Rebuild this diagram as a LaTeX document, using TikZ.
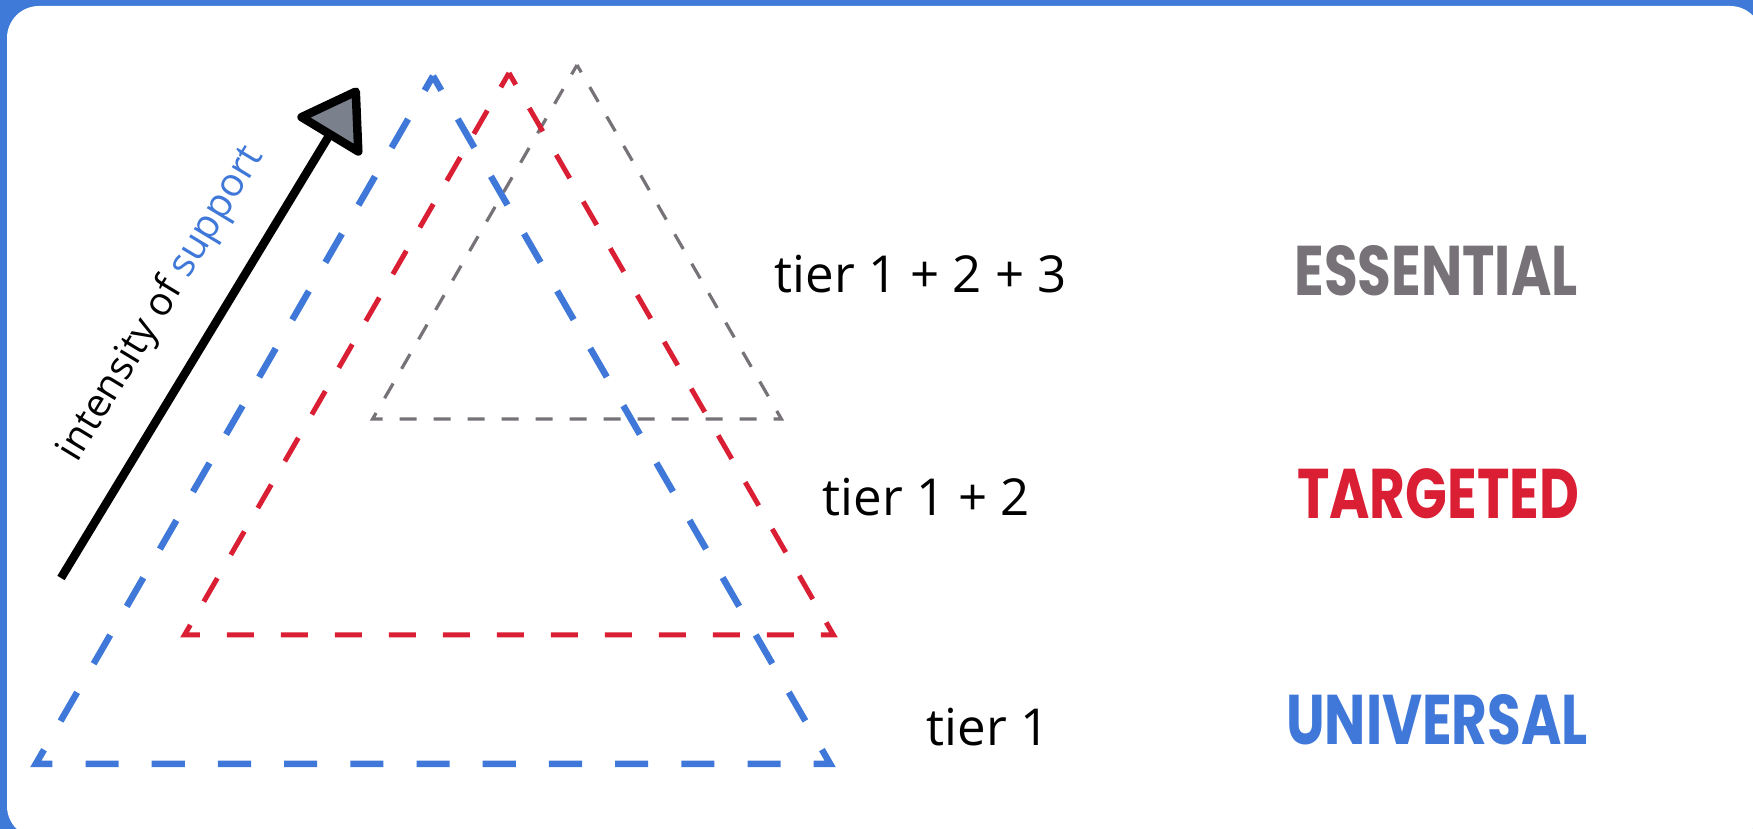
\documentclass[tikz,border=0pt]{standalone}
\usepackage{fontspec}
\usetikzlibrary{arrows.meta}
\newfontfamily\handfont{Open Sans}
\newfontfamily\labelfont{Poppins}[FakeStretch=0.78]
\definecolor{tierblue}{HTML}{3F78D8}
\definecolor{tierred}{HTML}{DA1E34}
\definecolor{tiergray}{HTML}{767278}
\definecolor{headgray}{HTML}{7A808C}
\definecolor{framebg}{HTML}{3F7AD9}
\begin{document}
\begin{tikzpicture}[x=0.1mm,y=-0.1mm,font=\handfont,
    tierlabel/.style={anchor=west,inner sep=0pt,font=\handfont\fontsize{14.5}{16}\selectfont},
    tiername/.style={inner sep=0pt,font=\labelfont\bfseries\fontsize{20}{22}\selectfont}]
  \useasboundingbox (0,0) rectangle (1753,829);
  \fill[framebg] (0,0) rectangle (1753,829);
  \fill[white,rounded corners=3.2mm] (7,6) rectangle (1762,838);
  % nested triangles: apex x / apex y / base y / colour / width / dash / phase
  \foreach \cx/\ty/\by/\clr/\lw/\dl/\ph in {%
    577/65/419/tiergray/0.32mm/1.70mm/0.85mm,
    509/73/635/tierred/0.5mm/2.70mm/1.35mm,
    433/76/764/tierblue/0.65mm/3.31mm/1.655mm}
  {
    \pgfmathsetmacro\hw{(\by-\ty)/sqrt(3)}
    \draw[\clr,line width=\lw,line join=miter,dash pattern=on \dl off \dl,dash phase=\ph]
      (\cx,\ty) -- (\cx+\hw,\by) -- (\cx-\hw,\by) -- cycle;
  }
  % intensity axis
  \coordinate (axis-start) at (61,578);
  \coordinate (axis-end) at (358,88);
  \draw[line width=0.85mm,-{Triangle[length=6.2mm,width=8mm,fill=headgray,round]}]
    (axis-start) -- (axis-end)
    node[pos=0.5,sloped,above=2mm,font=\handfont\fontsize{11.2}{13}\selectfont] (axis-label)
      {intensity of \textcolor{tierblue}{support}};
  \node[tierlabel] (tier-three) at (774,274) {tier 1 + 2 + 3};
  \node[tierlabel] (tier-two) at (822,497) {tier 1 + 2};
  \node[tierlabel] (tier-one) at (926,727) {tier 1};
  \node[tiername,text=tiergray] (name-essential) at (1436,271) {ESSENTIAL};
  \node[tiername,text=tierred] (name-targeted) at (1438,494) {TARGETED};
  \node[tiername,text=tierblue] (name-universal) at (1437,720) {UNIVERSAL};
\end{tikzpicture}
\end{document}
